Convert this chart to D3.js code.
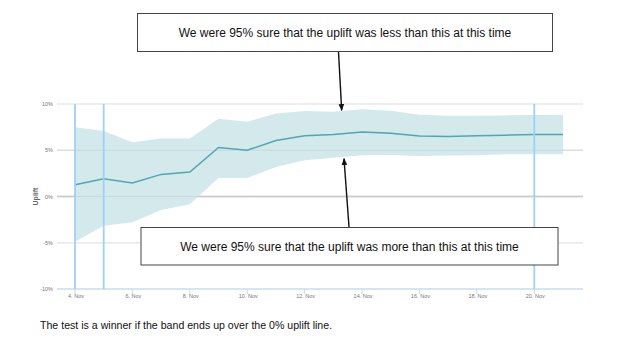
<!DOCTYPE html>
<html>
<head>
<meta charset="utf-8">
<script src="https://cdn.jsdelivr.net/npm/d3@7"></script>
<style>
  html, body { margin: 0; padding: 0; background: #fff; }
  svg { display: block; }
</style>
</head>
<body>
<svg id="chart" width="625" height="350"></svg>
<script>
// Daily uplift estimate with its 95% confidence band
const days = ["2016-11-04","2016-11-05","2016-11-06","2016-11-07","2016-11-08","2016-11-09",
  "2016-11-10","2016-11-11","2016-11-12","2016-11-13","2016-11-14","2016-11-15",
  "2016-11-16","2016-11-17","2016-11-18","2016-11-19","2016-11-20","2016-11-21"];
const uplift = [1.27, 1.92, 1.45, 2.39, 2.65, 5.3, 5.0, 6.05, 6.56, 6.7, 6.96, 6.85,
  6.55, 6.5, 6.56, 6.63, 6.7, 6.7];
const upper = [7.5, 7.07, 5.87, 6.27, 6.27, 8.4, 8.09, 8.96, 9.24, 9.17, 9.42, 9.28,
  8.85, 8.72, 8.72, 8.77, 8.8, 8.8];
const lower = [-4.89, -3.15, -2.78, -1.45, -0.83, 2.0, 2.0, 3.2, 3.91, 4.2, 4.46, 4.5,
  4.38, 4.42, 4.46, 4.57, 4.57, 4.57];
const yTicks = [-10, -5, 0, 5, 10];
const xTickDays = ["2016-11-04","2016-11-06","2016-11-08","2016-11-10","2016-11-12",
  "2016-11-14","2016-11-16","2016-11-18","2016-11-20"];
const markerDays = ["2016-11-04","2016-11-05","2016-11-20"];
const topNote = "We were 95% sure that the uplift was less than this at this time";
const bottomNote = "We were 95% sure that the uplift was more than this at this time";
const caption = "The test is a winner if the band ends up over the 0% uplift line.";

const parse = d3.utcParse("%Y-%m-%d");
const rows = days.map((d, i) => ({ date: parse(d), mid: uplift[i], hi: upper[i], lo: lower[i] }));

const plotLeft = 57, plotRight = 583, plotTop = 104, plotBottom = 289;

const x = d3.scaleUtc()
  .domain([parse("2016-11-04"), parse("2016-11-20")])
  .range([75, 534.3]);
const y = d3.scaleLinear().domain([-10, 10]).range([plotBottom, plotTop]);

const svg = d3.select("#chart");

// horizontal grid
svg.append("g").selectAll("line").data(yTicks).join("line")
  .attr("x1", plotLeft).attr("x2", plotRight)
  .attr("y1", d => y(d)).attr("y2", d => y(d))
  .attr("stroke", d => d === 0 ? "#d4d4d4" : (d === -10 ? "#c6dcf3" : "#e8e8e8"))
  .attr("stroke-width", d => d === 0 ? 2 : 1.5);

// y tick labels
svg.append("g").selectAll("text").data(yTicks).join("text")
  .attr("x", 53).attr("y", d => y(d) + 2)
  .attr("text-anchor", "end")
  .attr("font-family", "Liberation Sans, Arial, sans-serif")
  .attr("font-size", 5.5)
  .attr("fill", "#777")
  .text(d => d + "%");

// y axis title
svg.append("text")
  .attr("transform", `translate(38,${y(0)}) rotate(-90)`)
  .attr("text-anchor", "middle")
  .attr("font-family", "Liberation Sans, Arial, sans-serif")
  .attr("font-size", 7)
  .attr("font-weight", "bold")
  .attr("fill", "#666")
  .text("Uplift");

// x ticks and labels
const fmt = d3.utcFormat("%-d. %b");
const xt = svg.append("g");
xt.selectAll("line").data(xTickDays).join("line")
  .attr("x1", d => x(parse(d))).attr("x2", d => x(parse(d)))
  .attr("y1", plotBottom).attr("y2", plotBottom + 5)
  .attr("stroke", "#c6dcf3").attr("stroke-width", 1);
xt.selectAll("text").data(xTickDays).join("text")
  .attr("x", d => x(parse(d)) + 1).attr("y", plotBottom + 9)
  .attr("text-anchor", "middle")
  .attr("font-family", "Liberation Sans, Arial, sans-serif")
  .attr("font-size", 5.5)
  .attr("fill", "#777")
  .text(d => fmt(parse(d)));

// confidence band
svg.append("path").datum(rows)
  .attr("fill", "#d3e9ec")
  .attr("d", d3.area().x(d => x(d.date)).y0(d => y(d.lo)).y1(d => y(d.hi)));

// grid lines seen faintly through the band
svg.append("g").selectAll("line").data([0, 5]).join("line")
  .attr("x1", plotLeft).attr("x2", plotRight)
  .attr("y1", d => y(d)).attr("y2", d => y(d))
  .attr("stroke", "#b9c9cb").attr("stroke-opacity", 0.45).attr("stroke-width", 1);

// uplift line
svg.append("path").datum(rows)
  .attr("fill", "none")
  .attr("stroke", "#4fa7b0")
  .attr("stroke-width", 1.5)
  .attr("d", d3.line().x(d => x(d.date)).y(d => y(d.mid)));

// marker lines
svg.append("g").selectAll("line").data(markerDays).join("line")
  .attr("x1", d => x(parse(d))).attr("x2", d => x(parse(d)))
  .attr("y1", plotTop).attr("y2", plotBottom)
  .attr("stroke", "#9fd1f7").attr("stroke-width", 1.8);

// arrow head
svg.append("defs").append("marker")
  .attr("id", "head").attr("viewBox", "0 0 10 10")
  .attr("refX", 9).attr("refY", 5)
  .attr("markerWidth", 5).attr("markerHeight", 5)
  .attr("orient", "auto")
  .append("path").attr("d", "M0,1 L10,5 L0,9 Z").attr("fill", "#111");

function note(x0, y0, w, h, text) {
  const g = svg.append("g");
  g.append("rect").attr("x", x0).attr("y", y0).attr("width", w).attr("height", h)
    .attr("fill", "#fff").attr("stroke", "#444").attr("stroke-width", 1);
  g.append("text").attr("x", x0 + w / 2).attr("y", y0 + h / 2 + 4.5)
    .attr("text-anchor", "middle")
    .attr("font-family", "Liberation Sans, Arial, sans-serif")
    .attr("font-size", 12)
    .attr("fill", "#111")
    .text(text);
}

// arrows pointing at the band edges
svg.append("line")
  .attr("x1", 338.5).attr("y1", 52).attr("x2", 341.7).attr("y2", y(upper[10]) + 1)
  .attr("stroke", "#111").attr("stroke-width", 1.4).attr("marker-end", "url(#head)");
svg.append("line")
  .attr("x1", 349).attr("y1", 227).attr("x2", 344).attr("y2", y(lower[9]) + 1)
  .attr("stroke", "#111").attr("stroke-width", 1.4).attr("marker-end", "url(#head)");

note(137.5, 13.5, 415, 38, topNote);
note(141, 227.5, 417, 37.5, bottomNote);

svg.append("text")
  .attr("x", 40).attr("y", 329)
  .attr("font-family", "Liberation Sans, Arial, sans-serif")
  .attr("font-size", 10.6)
  .attr("fill", "#111")
  .text(caption);
</script>
</body>
</html>
